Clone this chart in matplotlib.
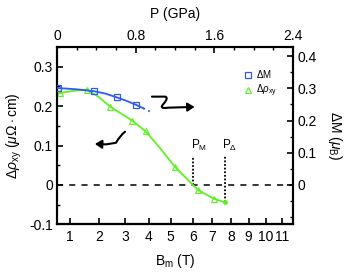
import numpy as np
import matplotlib
matplotlib.use("Agg")
import matplotlib.pyplot as plt
from matplotlib.path import Path
from matplotlib.patches import FancyArrowPatch
from matplotlib.ticker import MultipleLocator

plt.rcParams['font.family'] = ['Liberation Sans', 'DejaVu Sans']
plt.rcParams['mathtext.fontset'] = 'custom'
plt.rcParams['mathtext.rm'] = 'Liberation Sans'
plt.rcParams['mathtext.it'] = 'Liberation Sans:italic'

# ΔM (right axis, muB) vs pressure (GPa)
dm_p = [0.007, 0.377, 0.607, 0.803]
dm_v = [0.301, 0.291, 0.272, 0.249]
dm_fit_p = [0.007, 0.2, 0.377, 0.5, 0.607, 0.7, 0.803, 0.878]
dm_fit_v = [0.301, 0.297, 0.291, 0.283, 0.272, 0.262, 0.249, 0.238]
dm_ext_p = [0.878, 0.92, 0.962]
dm_ext_v = [0.238, 0.232, 0.225]

# Δρxy (left axis, μΩ·cm) vs pressure (GPa)
rho_p = [0.031, 0.302, 0.539, 0.766, 0.902, 1.200, 1.437, 1.597]
rho_v = [0.233, 0.242, 0.199, 0.163, 0.136, 0.046, -0.013, -0.035]
rho_fit_p = [0.0, 0.15, 0.302, 0.42, 0.539, 0.766, 0.902, 1.05, 1.200, 1.383, 1.437, 1.597, 1.709]
rho_fit_v = [0.232, 0.238, 0.242, 0.224, 0.199, 0.163, 0.136, 0.093, 0.046, 0.0, -0.013, -0.035, -0.044]

# bottom field axis: tick labels and their pressure positions
bm_ticks = [1, 2, 3, 4, 5, 6, 7, 8, 9, 10, 11]
bm_pos = [0.132, 0.430, 0.692, 0.933, 1.156, 1.380, 1.580, 1.770, 1.950, 2.125, 2.288]

p_m = 1.383
p_delta = 1.709

blue = '#3058f5'
green = '#5ef022'

fig = plt.figure(figsize=(3.52, 2.73), dpi=100)
ax = fig.add_axes([0.162, 0.178, 0.67, 0.65])
ax2 = ax.twinx()

ax.set_xlim(0, 2.4)
ax.set_ylim(-0.1, 0.35)
ax2.set_ylim(-0.1224, 0.4284)

ax.axhline(0, color='black', lw=1.1, ls=(0, (4, 4)))

ax.plot(rho_fit_p, rho_fit_v, color=green, lw=1.3, zorder=3)
ax.plot(rho_p, rho_v, ls='none', marker='^', ms=5, mfc='none', mec=green, mew=0.8, zorder=4)
ax.plot([rho_fit_p[-1]], [rho_fit_v[-1]], ls='none', marker='o', ms=2.5, color=green, zorder=4)

ax2.plot(dm_fit_p, dm_fit_v, color=blue, lw=1.3, zorder=3)
ax2.plot(dm_ext_p, dm_ext_v, color=blue, lw=1.3, ls=(0, (1, 2)), zorder=3)
ax2.plot(dm_p, dm_v, ls='none', marker='s', ms=4.5, mfc='none', mec=blue, mew=0.9, zorder=4)

# P_M and P_Delta markers
ax.plot([p_m, p_m], [0, 0.074], color='black', lw=1.3, ls=(0, (1, 1)))
ax.plot([p_delta, p_delta], [-0.044, 0.074], color='black', lw=1.3, ls=(0, (1, 1)))
ax.text(p_m - 0.02, 0.08, r'P$_\mathrm{M}$', fontsize=8.5, ha='left', va='bottom')
ax.text(p_delta - 0.03, 0.08, r'P$_\Delta$', fontsize=8.5, ha='left', va='bottom')

# curly arrows
arr1 = Path([(0.966, 0.224), (1.10, 0.224), (1.14, 0.222), (1.085, 0.206),
             (1.03, 0.192), (1.13, 0.196), (1.40, 0.198)],
            [Path.MOVETO, Path.LINETO, Path.CURVE3, Path.CURVE3,
             Path.CURVE3, Path.CURVE3, Path.LINETO])
ax.add_patch(FancyArrowPatch(path=arr1, arrowstyle='-|>,head_length=4,head_width=2.5',
                             color='black', lw=1.5))
arr2 = Path([(0.692, 0.135), (0.64, 0.125), (0.6, 0.107), (0.5, 0.103), (0.385, 0.104)],
            [Path.MOVETO, Path.CURVE3, Path.CURVE3, Path.LINETO, Path.LINETO])
ax.add_patch(FancyArrowPatch(path=arr2, arrowstyle='-|>,head_length=4,head_width=2.5',
                             color='black', lw=1.5))

# legend
h1, = ax.plot([], [], ls='none', marker='s', ms=4, mfc='none', mec=blue, mew=0.9)
h2, = ax.plot([], [], ls='none', marker='^', ms=4.5, mfc='none', mec=green, mew=0.8)
ax.legend([h1, h2], [r'$\Delta$M', r'$\Delta\rho_\mathrm{xy}$'], loc='upper right',
          bbox_to_anchor=(0.97, 0.93), frameon=False, fontsize=7, handletextpad=0.3,
          labelspacing=0.3, handlelength=1.0)

# top pressure axis
ax.xaxis.set_minor_locator(MultipleLocator(0.2))
ax.set_xticks([0, 0.8, 1.6, 2.4], labels=['0', '0.8', '1.6', '2.4'])
ax.tick_params(axis='x', which='both', top=True, labeltop=True, bottom=False, labelbottom=False)
ax.set_xlabel('P (GPa)', fontsize=10, labelpad=8)
ax.xaxis.set_label_position('top')

# bottom field axis
axb = ax.secondary_xaxis('bottom')
axb.set_xticks(bm_pos, labels=[str(b) for b in bm_ticks])
axb.tick_params(direction='in', length=4, width=1.2, labelsize=10, pad=4)
axb.set_xlabel(r'B$_\mathrm{m}$ (T)', fontsize=10, labelpad=6)
axb.spines['bottom'].set_linewidth(1.5)

ax.set_yticks([-0.1, 0, 0.1, 0.2, 0.3], labels=['-0.1', '0', '0.1', '0.2', '0.3'])
ax.yaxis.set_minor_locator(MultipleLocator(0.05))
ax.set_ylabel(r'$\Delta\rho_\mathrm{xy}$ ($\mu\Omega\cdot$cm)', fontsize=10, labelpad=4)

ax2.set_yticks([0, 0.1, 0.2, 0.3, 0.4], labels=['0', '0.1', '0.2', '0.3', '0.4'])
ax2.yaxis.set_minor_locator(MultipleLocator(0.05))
ax2.set_ylabel(r'$\Delta$M ($\mu_\mathrm{B}$)', fontsize=10, rotation=270, labelpad=20)

for a in (ax, ax2):
    a.tick_params(which='major', direction='in', length=4, width=1.2, labelsize=10, pad=3)
    a.tick_params(which='minor', direction='in', length=2.5, width=1.0)
    for s in a.spines.values():
        s.set_linewidth(1.5)

fig.savefig('out.png', dpi=100)
